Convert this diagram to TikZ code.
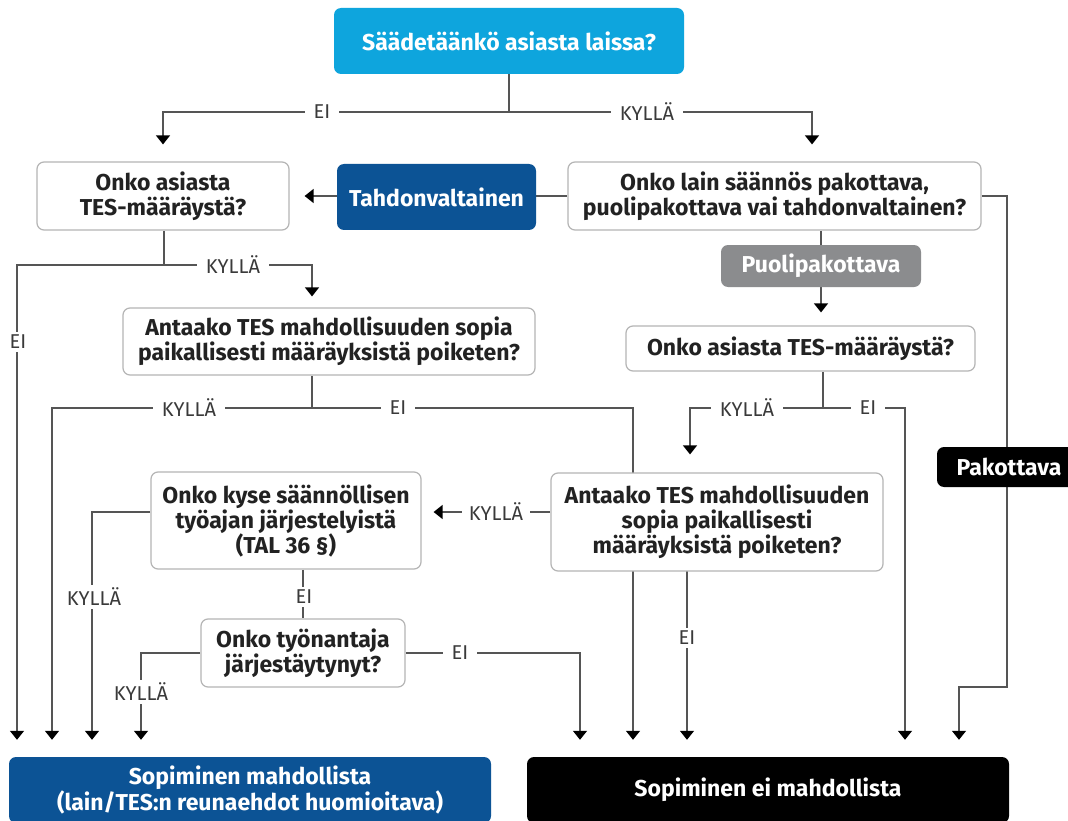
\documentclass[tikz,border=0pt]{standalone}
\usepackage{fontspec}
\setmainfont{Fira Sans}
\usetikzlibrary{arrows.meta,calc}
\pgfdeclarelayer{bg}
\pgfsetlayers{bg,main}
\definecolor{cyanb}{HTML}{0EA5DD}
\definecolor{blueb}{HTML}{0C5395}
\definecolor{grayb}{HTML}{8B8C8E}
\definecolor{linec}{HTML}{555555}
\definecolor{txt}{HTML}{222222}
\definecolor{lbltxt}{HTML}{3A3A3A}
\definecolor{bord}{HTML}{B5B5B5}
\begin{document}
\begin{tikzpicture}[x=1pt,y=-1pt,
  box/.style={draw=bord, line width=1.2pt, fill=white, rounded corners=7pt, align=center,
    font=\bfseries\fontsize{23}{25}\selectfont, text=txt, inner sep=0pt},
  fbox/.style={rounded corners=7pt, align=center,
    font=\bfseries\fontsize{23}{26}\selectfont, text=white, inner sep=0pt},
  lbl/.style={fill=white, text=lbltxt, font=\fontsize{20}{22}\selectfont, inner xsep=9pt, inner ysep=3pt},
  ln/.style={draw=linec, line width=1.3pt},
  arr/.style={ln, -{Triangle[width=14pt,length=9pt,color=black]}}
]
\useasboundingbox (0,0) rectangle (1068,821);

% nodes
\node[fbox, fill=cyanb, minimum width=350, minimum height=66] (q1) at (509,41) {Säädetäänkö asiasta laissa?};
\node[box, minimum width=252, minimum height=68] (qL) at (163,196) {Onko asiasta\\TES-määräystä?};
\node[fbox, fill=blueb, minimum width=199, minimum height=66] (tv) at (436.5,197) {Tahdonvaltainen};
\node[box, minimum width=413, minimum height=68] (qR) at (774.5,196) {Onko lain säännös pakottava,\\puolipakottava vai tahdonvaltainen?};
\node[fbox, fill=grayb, minimum width=200, minimum height=42] (pp) at (821,266) {Puolipakottava};
\node[box, minimum width=349, minimum height=45] (qR2) at (800.5,348.5) {Onko asiasta TES-määräystä?};
\node[box, minimum width=412, minimum height=67] (a1) at (329,341.5) {Antaako TES mahdollisuuden sopia\\paikallisesti määräyksistä poiketen?};
\node[box, minimum width=332, minimum height=98] (a2) at (717,522) {Antaako TES mahdollisuuden\\sopia paikallisesti\\määräyksistä poiketen?};
\node[box, minimum width=270, minimum height=97] (tal) at (286,520.5) {Onko kyse säännöllisen\\työajan järjestelyistä\\(TAL 36 §)};
\node[box, minimum width=204, minimum height=68] (ty) at (303,653) {Onko työnantaja\\järjestäytynyt?};
\node[fbox, fill=black, minimum width=144, minimum height=40] (pk) at (1009,467) {Pakottava};
\node[fbox, fill=blueb, minimum width=482, minimum height=66] (ok) at (250,790) {Sopiminen mahdollista\\(lain/TES:n reunaehdot huomioitava)};
\node[fbox, fill=black, minimum width=482, minimum height=66] (no) at (768,790) {Sopiminen ei mahdollista};

% bend coordinates
\coordinate (j1) at (509,112);
\coordinate (kR) at (812,112);
\coordinate (eT) at (163,112);
\coordinate (pR1) at (1007,196);
\coordinate (pR2) at (1007,687);
\coordinate (pR3) at (959,687);
\coordinate (j2) at (164,265);
\coordinate (eL) at (17,265);
\coordinate (kL) at (312,265);
\coordinate (j3) at (312,408);
\coordinate (k3) at (52,408);
\coordinate (e3) at (633,408);
\coordinate (j4) at (823,408);
\coordinate (k4) at (690,408);
\coordinate (e4) at (905,408);
\coordinate (e5) at (687,571);
\coordinate (k6) at (92,512);
\coordinate (k7) at (141,653);
\coordinate (e7) at (580,653);

\begin{pgfonlayer}{bg}
\fill[white] (0,0) rectangle (1068,821);
\draw[ln] (q1.south -| j1) -- (j1);
\draw[arr, shorten >=17pt] (j1) -- (eT) -- (eT |- qL.north);
\draw[arr, shorten >=17pt] (j1) -- (kR) -- (kR |- qR.north);
\draw[arr, shorten >=15pt] (qR.west) -- (qL.east);
\draw[arr, shorten >=17pt] (qR.east) -- (pR1) -- (pR2) -- (pR3) -- (pR3 |- no.north);
\draw[ln] (qR.south -| pp.north) -- (pp.north);
\draw[arr, shorten >=13pt] (pp.south) -- (pp.south |- qR2.north);
\draw[ln] (qL.south -| j2) -- (j2);
\draw[arr, shorten >=17pt] (j2) -- (eL) -- (eL |- ok.north);
\draw[arr, shorten >=11pt] (j2) -- (kL) -- (kL |- a1.north);
\draw[ln] (a1.south -| j3) -- (j3);
\draw[arr, shorten >=17pt] (j3) -- (k3) -- (k3 |- ok.north);
\draw[arr, shorten >=17pt] (j3) -- (e3) -- (e3 |- no.north);
\draw[ln] (qR2.south -| j4) -- (j4);
\draw[arr, shorten >=18pt] (j4) -- (k4) -- (k4 |- a2.north);
\draw[arr, shorten >=17pt] (j4) -- (e4) -- (e4 |- no.north);
\draw[arr, shorten >=12pt] (a2.west |- k6) -- (tal.east |- k6);
\draw[arr, shorten >=17pt] (e5) -- (e5 |- no.north);
\draw[arr, shorten >=17pt] (tal.west |- k6) -- (k6) -- (k6 |- ok.north);
\draw[ln] (ty.north |- tal.south) -- (ty.north);
\draw[arr, shorten >=17pt] (ty.west) -- (k7) -- (k7 |- ok.north);
\draw[arr, shorten >=17pt] (ty.east) -- (e7) -- (e7 |- no.north);
\end{pgfonlayer}

% labels
\node[lbl] (L1) at (322,112) {EI};
\node[lbl] (L2) at (647,112) {KYLLÄ};
\node[lbl] (L3) at (233,265) {KYLLÄ};
\node[lbl] (L4) at (18,342) {EI};
\node[lbl] (L5) at (189,408) {KYLLÄ};
\node[lbl] (L6) at (398,408) {EI};
\node[lbl] (L7) at (747,408) {KYLLÄ};
\node[lbl] (L8) at (868,408) {EI};
\node[lbl, inner xsep=7pt] (L9) at (496,512) {KYLLÄ};
\node[lbl] (L10) at (94,597) {KYLLÄ};
\node[lbl] (L11) at (304,597) {EI};
\node[lbl] (L12) at (141,692) {KYLLÄ};
\node[lbl] (L13) at (460,653) {EI};
\node[lbl] (L14) at (687,638) {EI};
\end{tikzpicture}
\end{document}
